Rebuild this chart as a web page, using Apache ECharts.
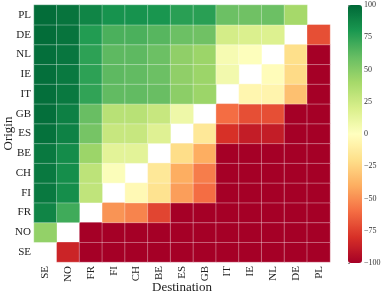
<!DOCTYPE html>
<html><head><meta charset="utf-8">
<script src="https://cdn.jsdelivr.net/npm/echarts@6/dist/echarts.min.js"></script>
<style>html,body{margin:0;padding:0;background:#fff}#c{width:382px;height:297px}</style>
</head><body><div id="c"></div>
<script>
// Category order (x: left to right, y: bottom to top)
const categories = ['SE','NO','FR','FI','CH','BE','ES','GB','IT','IE','NL','DE','PL'];
// Each origin row: values per destination in category order; null = no value
const rowPL = [98, 95, 88, 82, 82, 81, 76, 76, 58, 57, 58, 40, null];
const rowDE = [98, 95, 78, 67, 67, 64, 58, 57, 22, 19, 18, null, -70];
const rowNL = [97, 94, 75, 62, 62, 58, 47, 43, 5, 1, null, -20, -100];
const rowIE = [97, 93, 75, 62, 61, 58, 47, 43, 7, null, -2, -22, -100];
const rowIT = [97, 93, 74, 61, 61, 59, 48, 43, null, -6, -7, -33, -100];
const rowGB = [97, 90, 59, 33, 33, 27, 9, null, -60, -70, -70, -100, -100];
const rowES = [96, 89, 55, 27, 27, 17, null, -15, -80, -88, -88, -100, -100];
const rowBE = [93, 85, 43, 15, 15, null, -21, -40, -100, -100, -100, -100, -100];
const rowCH = [93, 84, 31, 2, null, -15, -40, -55, -100, -100, -100, -100, -100];
const rowFI = [93, 84, 30, null, -4, -18, -45, -60, -100, -100, -100, -100, -100];
const rowFR = [88, 70, null, -48, -53, -73, -100, -100, -100, -100, -100, -100, -100];
const rowNO = [46, null, -100, -100, -100, -100, -100, -100, -100, -100, -100, -100, -100];
const rowSE = [null, -85, -100, -100, -100, -100, -100, -100, -100, -100, -100, -100, -100];
const colorbarTicks = [-100, -75, -50, -25, 0, 25, 50, 75, 100];

const rows = {PL: rowPL, DE: rowDE, NL: rowNL, IE: rowIE, IT: rowIT, GB: rowGB, ES: rowES,
  BE: rowBE, CH: rowCH, FI: rowFI, FR: rowFR, NO: rowNO, SE: rowSE};
const data = [];
categories.forEach((origin, yi) => {
  rows[origin].forEach((v, xi) => {
    if (v !== null) data.push([xi, yi, v]);
  });
});

const serif = 'Liberation Serif';
const chart = echarts.init(document.getElementById('c'), null, {renderer: 'canvas'});
chart.setOption({
  animation: false,
  textStyle: {fontFamily: serif},
  grid: [
    {left: 34, right: 52, top: 5, bottom: 35, containLabel: false, outerBoundsMode: 'none'},
    {left: 348, width: 14, top: 5, height: 258, containLabel: false, outerBoundsMode: 'none'}
  ],
  xAxis: [
    {type: 'category', data: categories, gridIndex: 0,
     axisLine: {show: false}, axisTick: {show: false}, splitLine: {show: false},
     axisLabel: {rotate: 90, fontFamily: serif, fontSize: 11, color: '#222', margin: 4},
     name: 'Destination', nameLocation: 'middle', nameGap: 19, nameMoveOverlap: false,
     nameTextStyle: {fontFamily: serif, fontSize: 13, color: '#222'}},
    {type: 'value', gridIndex: 1, show: false, min: 0, max: 1}
  ],
  yAxis: [
    {type: 'category', data: categories, gridIndex: 0,
     axisLine: {show: false}, axisTick: {show: false}, splitLine: {show: false},
     axisLabel: {fontFamily: serif, fontSize: 11, color: '#222', margin: 3},
     name: 'Origin', nameLocation: 'middle', nameGap: 19, nameRotate: 90, nameMoveOverlap: false,
     nameTextStyle: {fontFamily: serif, fontSize: 13, color: '#222'}},
    {type: 'value', gridIndex: 1, position: 'right', min: -100, max: 100, interval: 25,
     axisLine: {show: false}, splitLine: {show: false},
     axisTick: {show: true, length: 2, lineStyle: {color: '#444', width: 0.6}},
     axisLabel: {fontFamily: serif, fontSize: 8, color: '#333', margin: 2,
       formatter: v => String(v).replace('-', '\u2212')}}
  ],
  visualMap: {
    type: 'continuous', min: -100, max: 100, calculable: false, seriesIndex: 0,
    orient: 'vertical', left: 348, top: 5, itemWidth: 14, itemHeight: 258,
    padding: 0, text: ['', ''], showLabel: false, hoverLink: false,
    inRange: {color: ['#a50026','#d73027','#f46d43','#fdae61','#fee08b','#ffffbf',
                      '#d9ef8b','#a6d96a','#66bd63','#1a9850','#006837']}
  },
  series: [{
    type: 'heatmap', xAxisIndex: 0, yAxisIndex: 0, data: data,
    itemStyle: {borderColor: 'rgba(255,255,255,0.55)', borderWidth: 0.6},
    emphasis: {disabled: true}
  }]
});
</script></body></html>
